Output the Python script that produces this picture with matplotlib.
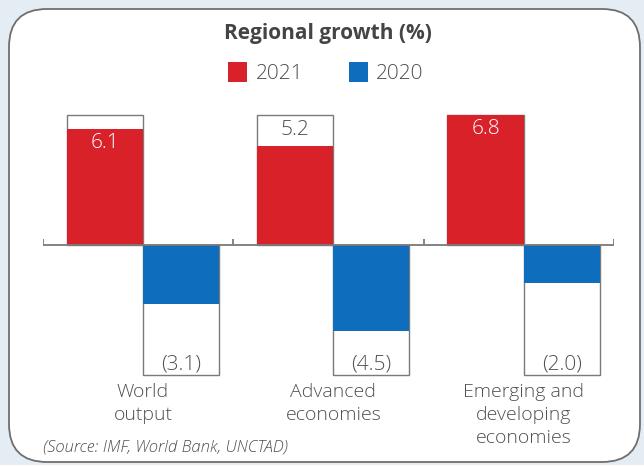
import numpy as np
import matplotlib.pyplot as plt
from matplotlib.patches import FancyBboxPatch

# --- data ---
categories = ["World\noutput", "Advanced\neconomies", "Emerging and\ndeveloping\neconomies"]
growth_2021 = [6.1, 5.2, 6.8]
growth_2020 = [-3.1, -4.5, -2.0]
years = ["2021", "2020"]

RED = "#d9212a"
BLUE = "#0f6dbd"
GREY = "#505050"
EDGE = "#7a7a7a"

plt.rcParams["font.family"] = ["Open Sans", "DejaVu Sans"]

fig = plt.figure(figsize=(6.44, 4.65), dpi=100)
fig.patch.set_facecolor("#e4edf3")

# rounded white panel, drawn in pixel coordinates
bg = fig.add_axes([0, 0, 1, 1])
bg.set_xlim(0, 644)
bg.set_ylim(465, 0)
bg.axis("off")
bg.add_patch(FancyBboxPatch((9, 9), 631, 453,
                            boxstyle="round,pad=0,rounding_size=38",
                            fc="white", ec="#6e6e6e", lw=1.3))

ax = fig.add_axes([0.0668, 0.1774, 0.8866, 0.5914])
ax.set_xlim(-0.525, 2.475)
ax.set_ylim(-7.2, 7.2)
ax.axis("off")

x = np.arange(len(categories))
w = 0.4
box = max(abs(v) for v in growth_2021 + growth_2020)

# outline "frames" behind the bars
ax.bar(x - w / 2, box, w, color="white", edgecolor=EDGE, lw=1)
ax.bar(x + w / 2, -box, w, color="white", edgecolor=EDGE, lw=1)
h1 = ax.bar(x - w / 2, growth_2021, w, color=RED, label=years[0])
h2 = ax.bar(x + w / 2, growth_2020, w, color=BLUE, label=years[1])

# baseline with small ticks at group boundaries
ax.axhline(0, color=EDGE, lw=1.3)
ax.vlines(np.arange(len(categories) + 1) - 0.525, 0, 0.3, color=EDGE, lw=1.3)

# value labels
for i, v in enumerate(growth_2021):
    if v > box - 1.2:
        ax.text(i - w / 2, v - 0.75, f"{v:.1f}", ha="center", va="center",
                color="white", fontsize=15, fontweight="light")
    else:
        ax.text(i - w / 2, (v + box) / 2, f"{v:.1f}", ha="center", va="center",
                color=GREY, fontsize=15, fontweight="light")
for i, v in enumerate(growth_2020):
    ax.text(i + w / 2, -box + 0.55, f"({abs(v):.1f})", ha="center", va="center",
            color=GREY, fontsize=15, fontweight="light")

# category labels
for i, c in enumerate(categories):
    ax.text(i, -7.2, c, ha="center", va="top", color=GREY, fontsize=14,
            fontweight="light", linespacing=1.38)

fig.text(328 / 644, 1 - 33 / 465, "Regional growth (%)", ha="center", va="center",
         fontsize=15, fontweight="bold", color="#444444")

leg = fig.legend(handles=[h1, h2], labels=years, loc="center", ncol=2,
                 bbox_to_anchor=(0.506, 1 - 73 / 465), frameon=False,
                 handlelength=0.9, handleheight=1.1, handletextpad=0.4,
                 columnspacing=2.2, prop={"size": 15, "weight": "light"})
for t in leg.get_texts():
    t.set_color(GREY)

fig.text(43 / 644, 1 - 447 / 465, "(Source: IMF, World Bank, UNCTAD)", ha="left",
         va="center", fontsize=12, style="italic", fontweight="light", color=GREY)

fig.savefig("out.png", dpi=100, facecolor=fig.get_facecolor())
